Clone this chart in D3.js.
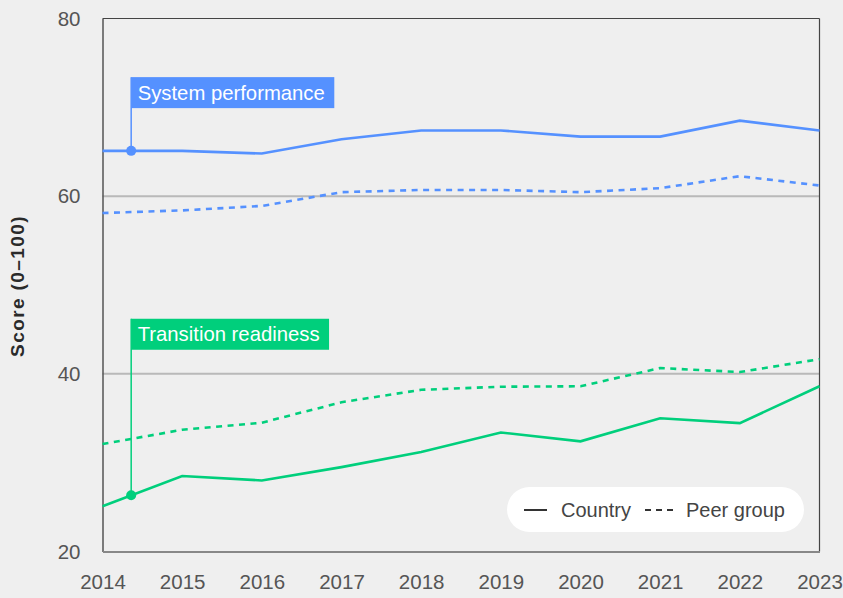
<!DOCTYPE html>
<html>
<head>
<meta charset="utf-8">
<script src="https://cdn.jsdelivr.net/npm/d3@7/dist/d3.min.js"></script>
<style>
  html, body { margin: 0; padding: 0; background: #efefef; }
  svg { display: block; font-family: "Liberation Sans", Arial, Helvetica, sans-serif; }
</style>
</head>
<body>
<svg id="chart" width="843" height="598"></svg>
<script>
// Years on the x axis
const years = [2014, 2015, 2016, 2017, 2018, 2019, 2020, 2021, 2022, 2023];

// Scores (0–100) by year
const systemCountry = [65.1, 65.1, 64.8, 66.4, 67.4, 67.4, 66.7, 66.7, 68.5, 67.4];
const systemPeer    = [58.1, 58.4, 58.9, 60.45, 60.7, 60.7, 60.45, 60.9, 62.25, 61.2];
const transCountry  = [25.1, 28.5, 28.0, 29.5, 31.2, 33.4, 32.4, 35.0, 34.45, 38.6];
const transPeer     = [32.1, 33.7, 34.5, 36.8, 38.2, 38.55, 38.6, 40.65, 40.2, 41.65];

const yTicks = [20, 40, 60, 80];
const gridValues = [40, 60];

const indicators = ["System performance", "Transition readiness"];
const colors = ["#5591ff", "#00cf7c"];
// Where each callout sits: the year it points at and the score its box top aligns with
const calloutYear = 2014.36;
const calloutTop = [73.4, 46.2];

const legendLabels = ["Country", "Peer group"];

const series = [
  { values: systemCountry, color: colors[0], dashed: false },
  { values: systemPeer,    color: colors[0], dashed: true },
  { values: transCountry,  color: colors[1], dashed: false },
  { values: transPeer,     color: colors[1], dashed: true }
];

const svg = d3.select("#chart");
const margin = { top: 18.5, right: 23.5, bottom: 46.5, left: 102.5 };
const W = 843, H = 598;
const iw = W - margin.left - margin.right;
const ih = H - margin.top - margin.bottom;

const x = d3.scaleLinear().domain([years[0], years[years.length - 1]]).range([0, iw]);
const y = d3.scaleLinear().domain([20, 80]).range([ih, 0]);

const g = svg.append("g").attr("transform", `translate(${margin.left},${margin.top})`);

// Gridlines
g.append("g").selectAll("line").data(gridValues).join("line")
  .attr("x1", 0).attr("x2", iw)
  .attr("y1", d => y(d)).attr("y2", d => y(d))
  .attr("stroke", "#b9b9b9").attr("stroke-width", 2);

// Frame: top and right
g.append("line").attr("x1", 0).attr("x2", iw).attr("y1", 0).attr("y2", 0)
  .attr("stroke", "#444").attr("stroke-width", 1.2);
g.append("line").attr("x1", iw).attr("x2", iw).attr("y1", 0).attr("y2", ih)
  .attr("stroke", "#444").attr("stroke-width", 1.2);

// Y axis
const yAxis = g.append("g")
  .call(d3.axisLeft(y).tickValues(yTicks).tickSize(0).tickPadding(22));
yAxis.select(".domain").attr("stroke", "#555").attr("stroke-width", 1.5);
yAxis.selectAll("text").attr("fill", "#555").attr("font-size", 20.5)
  .attr("font-family", "Liberation Sans, Arial, sans-serif");

// X axis
const xAxis = g.append("g").attr("transform", `translate(0,${ih})`)
  .call(d3.axisBottom(x).tickValues(years).tickFormat(d3.format("d")).tickSize(0).tickPadding(23));
xAxis.select(".domain").attr("stroke", "#888").attr("stroke-width", 2);
xAxis.selectAll("text").attr("fill", "#555").attr("font-size", 20.5)
  .attr("font-family", "Liberation Sans, Arial, sans-serif");

// Y axis title
svg.append("text")
  .attr("transform", `translate(24,${margin.top + y(50) + 1}) rotate(-90)`)
  .attr("text-anchor", "middle")
  .attr("font-size", 19).attr("font-weight", 700)
  .attr("letter-spacing", 1.4)
  .attr("fill", "#2a2a2a")
  .text("Score (0–100)");

// Lines
const line = d3.line().x((d, i) => x(years[i])).y(d => y(d));
g.append("g").selectAll("path").data(series).join("path")
  .attr("d", d => line(d.values))
  .attr("fill", "none")
  .attr("stroke", d => d.color)
  .attr("stroke-width", 2.6)
  .attr("stroke-dasharray", d => d.dashed ? "6,5.5" : null);

// Callouts: vertical leader, dot on the country line, labelled box
function valueAt(values, year) {
  const i = Math.min(Math.floor(year - years[0]), years.length - 2);
  const t = year - years[i];
  return values[i] + (values[i + 1] - values[i]) * t;
}
const callouts = [
  { label: indicators[0], color: colors[0], values: systemCountry, top: calloutTop[0] },
  { label: indicators[1], color: colors[1], values: transCountry, top: calloutTop[1] }
];
callouts.forEach(c => {
  const cx = x(calloutYear);
  const cy = y(valueAt(c.values, calloutYear));
  const top = y(c.top);
  g.append("line").attr("x1", cx).attr("x2", cx).attr("y1", top).attr("y2", cy)
    .attr("stroke", c.color).attr("stroke-width", 1.5);
  g.append("circle").attr("cx", cx).attr("cy", cy).attr("r", 5).attr("fill", c.color);
  const rect = g.append("rect").attr("x", cx).attr("y", top).attr("height", 31).attr("fill", c.color);
  const txt = g.append("text").attr("x", cx + 6.5).attr("y", top + 22.5)
    .attr("fill", "#fff").attr("font-size", 20.3)
    .attr("font-family", "Liberation Sans, Arial, sans-serif")
    .text(c.label);
  rect.attr("width", txt.node().getComputedTextLength() + 16);
});

// Legend
const lg = g.append("g").attr("transform", `translate(${iw - 15.5 - 297},${ih - 19.5 - 45})`);
lg.append("rect").attr("width", 297).attr("height", 45).attr("rx", 22.5).attr("fill", "#fff");
lg.append("line").attr("x1", 17).attr("x2", 40).attr("y1", 23).attr("y2", 23)
  .attr("stroke", "#333").attr("stroke-width", 2);
lg.append("text").attr("x", 54).attr("y", 30).attr("font-size", 20).attr("fill", "#444")
  .text(legendLabels[0]);
lg.append("line").attr("x1", 138).attr("x2", 168).attr("y1", 23).attr("y2", 23)
  .attr("stroke", "#333").attr("stroke-width", 2).attr("stroke-dasharray", "6,5");
lg.append("text").attr("x", 179).attr("y", 30).attr("font-size", 20).attr("fill", "#444")
  .text(legendLabels[1]);
</script>
</body>
</html>
